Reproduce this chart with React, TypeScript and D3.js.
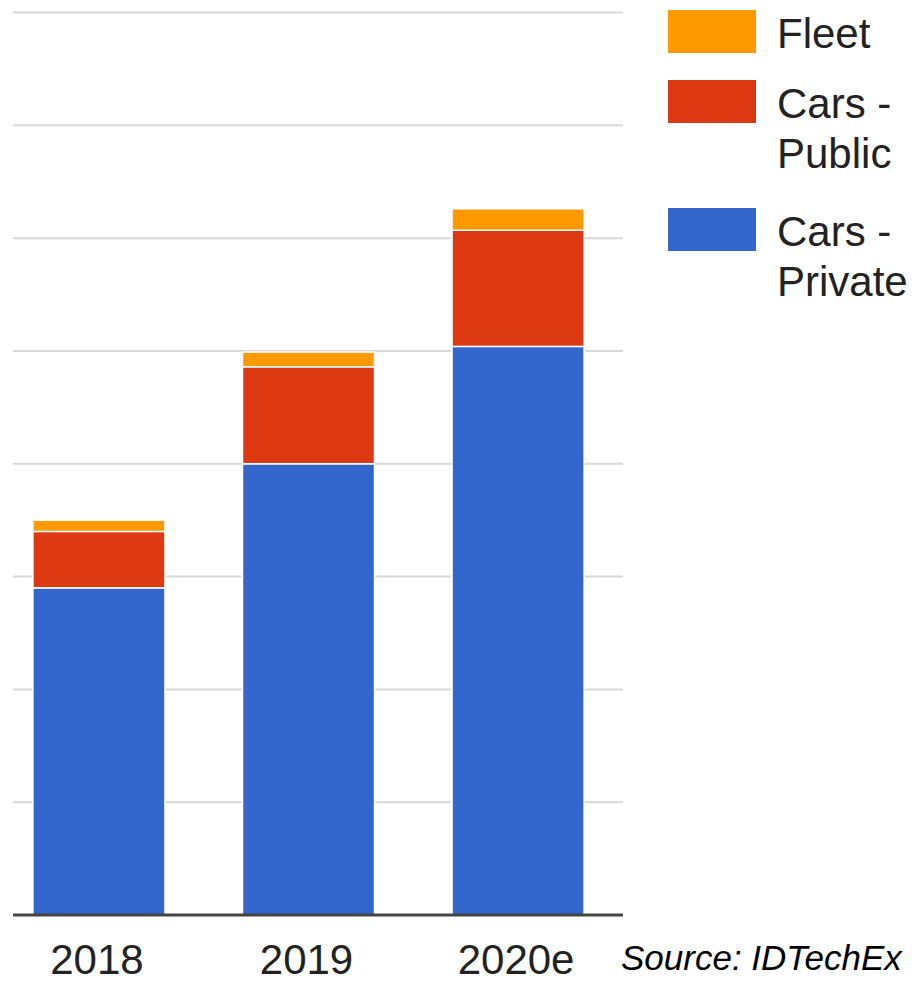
import React from "react";
import * as d3 from "d3";

const categories = ["2018", "2019", "2020e"];
const seriesNames = ["Cars - Private", "Cars - Public", "Fleet"];
const carsPrivate = [2.9, 4.0, 5.04];
const carsPublic = [0.5, 0.86, 1.03];
const fleet = [0.1, 0.13, 0.19];
const colors = ["#3366cc", "#dc3912", "#ff9900"];
const gridTicks = [0, 1, 2, 3, 4, 5, 6, 7, 8];
const legendItems = [
  { lines: ["Fleet"], color: "#ff9900" },
  { lines: ["Cars -", "Public"], color: "#dc3912" },
  { lines: ["Cars -", "Private"], color: "#3366cc" },
];
const sourceText = "Source: IDTechEx";

export default function App() {
  const W = 917;
  const H = 983;
  const font = "'Liberation Sans', Arial, sans-serif";

  const x = d3
    .scaleBand<string>()
    .domain(categories)
    .range([13, 604])
    .paddingInner(0.37)
    .paddingOuter(0.095);
  const y = d3.scaleLinear().domain([0, 8]).range([915, 12.5]);

  const rows = categories.map((c, i) => ({
    cat: c,
    "Cars - Private": carsPrivate[i],
    "Cars - Public": carsPublic[i],
    Fleet: fleet[i],
  }));
  const stacked = d3.stack<any>().keys(seriesNames)(rows);

  const legendTop = [10, 80, 208];

  return (
    <svg
      width={W}
      height={H}
      style={{ position: "absolute", left: 0, top: 0, background: "#fff" }}
    >
      {gridTicks.slice(1).map((t) => (
        <line
          key={t}
          x1={13}
          x2={623}
          y1={y(t)}
          y2={y(t)}
          stroke="#d8d8d8"
          strokeWidth={2}
        />
      ))}
      {stacked.map((s, si) => (
        <g key={s.key} fill={colors[si]}>
          {s.map((d, i) => (
            <rect
              key={i}
              x={x(categories[i])}
              width={x.bandwidth()}
              y={y(d[1])}
              height={y(d[0]) - y(d[1])}
              stroke="#ffffff"
              strokeWidth={1.5}
            />
          ))}
        </g>
      ))}
      <line x1={13} x2={623} y1={y(0)} y2={y(0)} stroke="#444" strokeWidth={3} />
      {categories.map((c) => {
        const cx = (x(c) as number) + x.bandwidth() / 2;
        return (
          <text
            key={c}
            x={cx - 2}
            y={974}
            textAnchor="middle"
            fontFamily={font}
            fontSize={42}
            fill="#222"
          >
            {c}
          </text>
        );
      })}
      <text
        x={621}
        y={970}
        fontFamily={font}
        fontSize={35}
        fontStyle="italic"
        fill="#000"
      >
        {sourceText}
      </text>
      {legendItems.map((item, i) => (
        <g key={i}>
          <rect
            x={668}
            y={legendTop[i]}
            width={88}
            height={43}
            fill={item.color}
          />
          {item.lines.map((ln, j) => (
            <text
              key={j}
              x={777}
              y={legendTop[i] + 38 + j * 50}
              fontFamily={font}
              fontSize={42}
              fill="#222"
            >
              {ln}
            </text>
          ))}
        </g>
      ))}
    </svg>
  );
}
